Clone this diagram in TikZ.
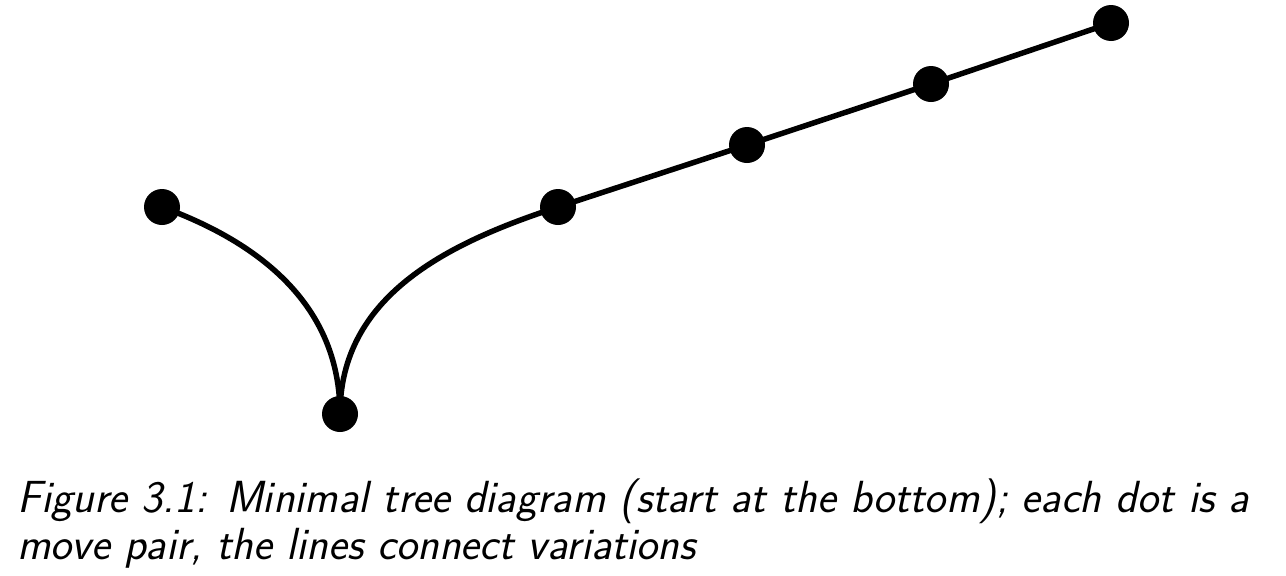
\documentclass[tikz,border=0pt]{standalone}
\usepackage{fontspec}
\begin{document}
\begin{tikzpicture}[x=1pt,y=-1pt,
  dot/.style={circle,fill=black,inner sep=0pt,minimum size=36pt},
  conn/.style={line width=5.5pt,black},
  captxt/.style={anchor=base west,inner sep=0pt,align=left,font=\fontsize{45}{47}\selectfont\sffamily\itshape}]
\useasboundingbox (0,0) rectangle (1286,576);
\node[dot] (a) at (162,207) {};
\node[dot] (b) at (340,414) {};
\node[dot] (c) at (558,207) {};
\node[dot] (d) at (747,145) {};
\node[dot] (e) at (931,84) {};
\node[dot] (f) at (1111,23) {};
\draw[conn] (b.center) to[out=90,in=-20] (a.center);
\draw[conn] (b.center) to[out=90,in=198] (c.center);
\draw[conn] (c.center) -- (d.center) -- (e.center) -- (f.center);
\node[captxt] (cap) at (17,559) {Figure 3.1: Minimal tree diagram (start at the bottom); each dot is a\\move pair, the lines connect variations};
\end{tikzpicture}
\end{document}
